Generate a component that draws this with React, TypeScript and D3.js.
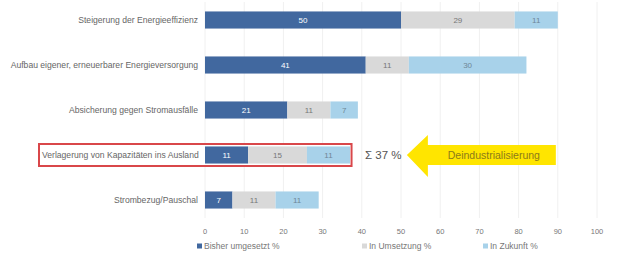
import React from 'react';
import * as d3 from 'd3';

// data
const categories = [
    'Steigerung der Energieeffizienz',
    'Aufbau eigener, erneuerbarer Energieversorgung',
    'Absicherung gegen Stromausfälle',
    'Verlagerung von Kapazitäten ins Ausland',
    'Strombezug/Pauschal',
];
const bisherUmgesetzt = [50, 41, 21, 11, 7];
const inUmsetzung = [29, 11, 11, 15, 11];
const inZukunft = [11, 30, 7, 11, 11];
const seriesNames = ['Bisher umgesetzt %', 'In Umsetzung %', 'In Zukunft %'];
const xTicks = [0, 10, 20, 30, 40, 50, 60, 70, 80, 90, 100];
const highlightIndex = 3;
const sumLabel = 'Σ 37 %';
const arrowLabel = 'Deindustrialisierung';

const colors = ['#41689f', '#d9d9d9', '#a8d2ea'];
const textColors = ['#ffffff', '#777777', '#6f8796'];

const W = 634;
const H = 256;

const App = () => {
    const x = d3.scaleLinear().domain([0, 100]).range([205, 597]);
    const y = d3.scaleBand<number>()
        .domain(d3.range(categories.length))
        .range([-2.5, 222.5])
        .paddingInner(0.62)
        .paddingOuter(0.31);

    const series = [bisherUmgesetzt, inUmsetzung, inZukunft];
    const stacked = categories.map((c, i) => {
        let acc = 0;
        return series.map((s, k) => {
            const seg = { k, x0: acc, x1: acc + s[i], v: s[i] };
            acc += s[i];
            return seg;
        });
    });

    const hy = (y(highlightIndex) ?? 0) + y.bandwidth() / 2;
    const hiEnd = d3.sum(series, s => s[highlightIndex]);

    // arrow pointing left
    const tipX = x(51.5);
    const headX = tipX + 21;
    const endX = x(89.5);
    const arrow = d3.path();
    arrow.moveTo(tipX, hy);
    arrow.lineTo(headX, hy - 20);
    arrow.lineTo(headX, hy - 10);
    arrow.lineTo(endX, hy - 10);
    arrow.lineTo(endX, hy + 10);
    arrow.lineTo(headX, hy + 10);
    arrow.lineTo(headX, hy + 22);
    arrow.closePath();

    const legendX = [197, 362, 483];

    return (
        <svg width={W} height={H} style={{ position: 'absolute', left: 0, top: 0, background: '#fff' }}
            fontFamily="'Liberation Sans', Arial, sans-serif">
            {/* gridlines */}
            {xTicks.map(t => (
                <line key={t} x1={x(t)} x2={x(t)} y1={2} y2={218} stroke="#f0f0f0" strokeWidth={1} />
            ))}

            {/* highlight frame */}
            <rect x={39} y={hy - 11} width={x(hiEnd) + 1.5 - 39} height={22}
                fill="#fff" stroke="#d9474a" strokeWidth={2} />

            {/* bars */}
            {stacked.map((segs, i) => (
                <g key={i}>
                    <text x={i === highlightIndex ? 42 : 198} y={(y(i) ?? 0) + y.bandwidth() / 2} dy="0.35em"
                        textAnchor={i === highlightIndex ? 'start' : 'end'}
                        fontSize={8.6} fill="#666">{categories[i]}</text>
                    {segs.map(s => (
                        <g key={s.k}>
                            <rect x={x(s.x0)} y={y(i)} width={x(s.x1) - x(s.x0)} height={y.bandwidth()}
                                fill={colors[s.k]} />
                            <text x={(x(s.x0) + x(s.x1)) / 2} y={(y(i) ?? 0) + y.bandwidth() / 2} dy="0.35em"
                                textAnchor="middle" fontSize={8} fill={textColors[s.k]}>{s.v}</text>
                        </g>
                    ))}
                </g>
            ))}

            {/* sum + arrow */}
            <text x={x(hiEnd) + 15} y={hy} dy="0.35em" fontSize={11.5} fill="#555">{sumLabel}</text>
            <path d={arrow.toString()} fill="#ffe500" />
            <text x={(headX + endX) / 2 + 2} y={hy} dy="0.35em" textAnchor="middle" fontSize={10.5}
                fill="#8c7a1a">{arrowLabel}</text>

            {/* x tick labels */}
            {xTicks.map(t => (
                <text key={t} x={x(t)} y={231} dy="0.35em" textAnchor="middle" fontSize={7.5} fill="#777">{t}</text>
            ))}

            {/* legend */}
            {seriesNames.map((n, k) => (
                <g key={n} transform={`translate(${legendX[k]},246)`}>
                    <rect x={0} y={-2.5} width={5} height={5} fill={colors[k]} />
                    <text x={7} y={0} dy="0.35em" fontSize={8.5} fill="#777">{n}</text>
                </g>
            ))}
        </svg>
    );
};

export default App;
